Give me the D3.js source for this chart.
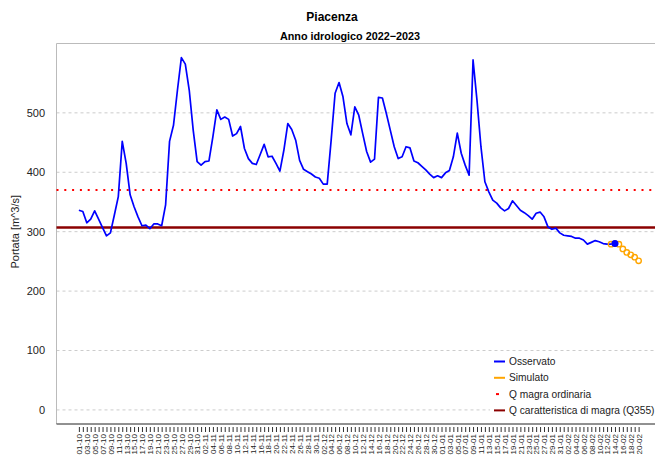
<!DOCTYPE html>
<html>
<head>
<meta charset="utf-8">
<script src="https://cdn.jsdelivr.net/npm/d3@7"></script>
<style>
  body { margin: 0; background: #fff; }
  svg text { font-family: "Liberation Sans", Arial, sans-serif; }
</style>
</head>
<body>
<div id="chart"></div>
<script>
// days from 01-10-2022 to 20-02-2023
const dates = d3.timeDay.range(new Date(2022, 9, 1), new Date(2023, 1, 21));

// observed discharge (m^3/s), one per day from 01-10
const osservato = [
  336, 334, 315, 321, 335, 321, 307, 293, 298, 328,
  359, 452, 415, 362, 342, 325, 310, 311, 305, 313,
  313, 310, 345, 452, 479, 538, 593, 582, 538, 471,
  418, 412, 418, 419, 460, 505, 489, 493, 489, 461,
  465, 477, 440, 423, 415, 413, 430, 447, 426, 427,
  415, 402, 437, 482, 472, 454, 420, 405, 401, 397,
  392, 390, 380, 380, 454, 533, 551, 527, 482, 463,
  510, 496, 465, 435, 417, 422, 526, 525, 499, 471,
  443, 423, 426, 443, 441, 419, 416, 410, 404, 397,
  391, 394, 391, 399, 403, 426, 466, 432, 412, 395,
  589, 521, 443, 384, 367, 353, 348, 340, 335, 339,
  352, 344, 336, 332, 327, 321, 331, 333, 325, 308,
  304, 306, 298, 294, 293, 292, 289, 289, 286, 279,
  282, 285, 283, 280, 279, 279, 280
];

// simulated discharge, starting at day index 135
const simStart = 135;
const simulato = [279, 280, 279, 271, 265, 261, 257, 251];

const qMagraOrdinaria = 370;
const q355 = 307;

const yTicks = [0, 100, 200, 300, 400, 500];

const legendLabels = ["Osservato", "Simulato", "Q magra ordinaria", "Q caratteristica di magra (Q355)"];

const width = 655, height = 456;
const plotLeft = 56.5, plotRight = 661, plotTop = 43.5, plotBottom = 424;

const svg = d3.select("#chart")
    .append("svg")
    .attr("width", width)
    .attr("height", height);

const n = dates.length;
const padX = (n - 1) * 0.04;
const xScale = d3.scaleLinear()
    .domain([-padX, n - 1 + padX])
    .range([plotLeft, plotRight]);

const yMax = d3.max(osservato);
const yScale = d3.scaleLinear()
    .domain([-yMax * 0.04, yMax * 1.04])
    .range([plotBottom, plotTop]);

// titles
svg.append("text")
    .attr("x", 332).attr("y", 21)
    .attr("text-anchor", "middle")
    .style("font-size", "12px").style("font-weight", "bold")
    .text("Piacenza");
svg.append("text")
    .attr("x", 350).attr("y", 40)
    .attr("text-anchor", "middle")
    .style("font-size", "10.8px").style("font-weight", "bold")
    .text("Anno idrologico 2022\u22122023");

// grid
svg.selectAll(".grid")
    .data(yTicks)
    .enter()
    .append("line")
    .attr("class", "grid")
    .attr("x1", plotLeft).attr("x2", width)
    .attr("y1", d => yScale(d)).attr("y2", d => yScale(d))
    .attr("stroke", "#cccccc")
    .attr("stroke-dasharray", "3,3");

// y labels
svg.selectAll(".ylab")
    .data(yTicks)
    .enter()
    .append("text")
    .attr("class", "ylab")
    .attr("x", 45)
    .attr("y", d => yScale(d))
    .attr("dy", "0.35em")
    .attr("text-anchor", "end")
    .style("font-size", "11px")
    .attr("fill", "#222")
    .text(d => d);

svg.append("text")
    .attr("transform", "translate(19," + ((plotTop + plotBottom) / 2 - 2) + ") rotate(-90)")
    .attr("text-anchor", "middle")
    .style("font-size", "11px")
    .attr("fill", "#222")
    .text("Portata [m^3/s]");

// box
svg.append("line")
    .attr("x1", plotLeft).attr("x2", width).attr("y1", plotTop).attr("y2", plotTop)
    .attr("stroke", "#bbbbbb");
svg.append("line")
    .attr("x1", plotLeft).attr("x2", plotLeft).attr("y1", plotTop).attr("y2", plotBottom)
    .attr("stroke", "#bbbbbb");

// x axis
const xAxis = d3.axisBottom(xScale)
    .tickValues(d3.range(n))
    .tickSize(5)
    .tickFormat(i => i % 2 === 0 ? d3.timeFormat("%d-%m")(dates[i]) : "");

const gx = svg.append("g")
    .attr("transform", "translate(0," + (plotBottom + 3) + ")")
    .call(xAxis);
gx.select(".domain").remove();
gx.selectAll(".tick line").attr("stroke", "#333");
gx.selectAll(".tick text")
    .attr("transform", "rotate(-90)")
    .attr("text-anchor", "end")
    .attr("x", -7)
    .attr("y", 0)
    .attr("dy", "0.35em")
    .style("font-size", "8px")
    .attr("fill", "#222");

svg.append("line")
    .attr("x1", plotLeft).attr("x2", width).attr("y1", plotBottom).attr("y2", plotBottom)
    .attr("stroke", "#222");

// threshold lines
svg.append("line")
    .attr("x1", plotLeft).attr("x2", width)
    .attr("y1", yScale(qMagraOrdinaria)).attr("y2", yScale(qMagraOrdinaria))
    .attr("stroke", "#ff0000")
    .attr("stroke-width", 2)
    .attr("stroke-dasharray", "2,5.8");

svg.append("line")
    .attr("x1", plotLeft).attr("x2", width)
    .attr("y1", yScale(q355)).attr("y2", yScale(q355))
    .attr("stroke", "#8b0000")
    .attr("stroke-width", 2.5);

// observed line
const line = d3.line()
    .x((d, i) => xScale(i))
    .y(d => yScale(d));

svg.append("path")
    .datum(osservato)
    .attr("fill", "none")
    .attr("stroke", "#0000ff")
    .attr("stroke-width", 1.7)
    .attr("stroke-linejoin", "round")
    .attr("d", line);

// simulated points
svg.selectAll(".sim")
    .data(simulato)
    .enter()
    .append("circle")
    .attr("class", "sim")
    .attr("cx", (d, i) => xScale(simStart + i))
    .attr("cy", d => yScale(d))
    .attr("r", 2.7)
    .attr("fill", "none")
    .attr("stroke", "#ffa500")
    .attr("stroke-width", 1.4);

// last observed point
const lastIdx = osservato.length - 1;
svg.append("circle")
    .attr("cx", xScale(lastIdx))
    .attr("cy", yScale(osservato[lastIdx]))
    .attr("r", 3.5)
    .attr("fill", "#0000ff");

// legend
const legendColors = ["#0000ff", "#ffa500", "#ff0000", "#8b0000"];
const legend = svg.append("g");
legend.append("rect")
    .attr("x", 490).attr("y", 353)
    .attr("width", width - 490).attr("height", 66)
    .attr("fill", "#fff");

const items = legend.selectAll(".item")
    .data(legendLabels)
    .enter()
    .append("g")
    .attr("transform", (d, i) => "translate(0," + (361.5 + i * 16.3) + ")");

items.append("line")
    .attr("x1", (d, i) => i === 2 ? 496 : 494)
    .attr("x2", (d, i) => i === 2 ? 499 : 505)
    .attr("stroke", (d, i) => legendColors[i])
    .attr("stroke-width", 2);

items.append("text")
    .attr("x", 509)
    .attr("dy", "0.35em")
    .style("font-size", "10.2px")
    .attr("fill", "#222")
    .text(d => d);
</script>
</body>
</html>
